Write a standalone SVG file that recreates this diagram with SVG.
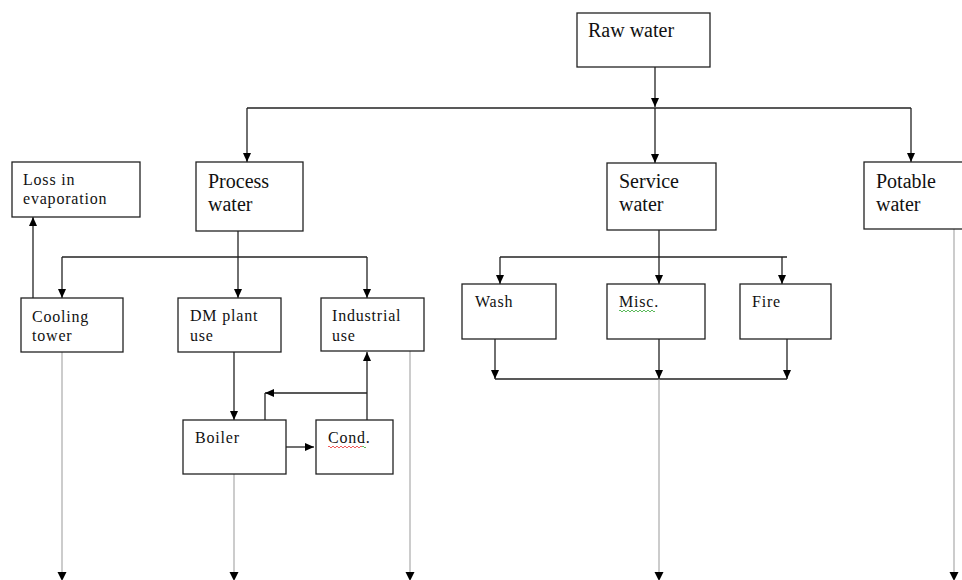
<svg xmlns="http://www.w3.org/2000/svg" width="962" height="580" viewBox="0 0 962 580">
  <style>
    .box { fill: #fff; stroke: #222; stroke-width: 1.3; }
    .big { font-family: "Liberation Serif", "Times New Roman", serif; font-size: 20px; fill: #111; }
    .small { font-family: "Liberation Serif", "Times New Roman", serif; font-size: 16px; letter-spacing: 0.8px; fill: #111; }
    .ln { fill: none; stroke: #222; stroke-width: 1.3; }
    .out { fill: none; stroke: #999; stroke-width: 1; }
    .squig { fill: none; stroke-width: 0.8; }
  </style>
  <defs>
    <marker id="ah" markerUnits="userSpaceOnUse" markerWidth="10" markerHeight="10" refX="9" refY="4" orient="auto">
      <path d="M0,0 L9,4 L0,8 z" fill="#000"/>
    </marker>
  </defs>
  <rect width="962" height="580" fill="#fff"/>

  <!-- Connectors -->
  <g id="connectors">
    <!-- supply header from raw water -->
    <path class="ln" d="M655,67 V107" marker-end="url(#ah)"/>
    <path class="ln" d="M247,108 H911"/>
    <path class="ln" d="M247,108 V162" marker-end="url(#ah)"/>
    <path class="ln" d="M655,108 V163" marker-end="url(#ah)"/>
    <path class="ln" d="M911,108 V162" marker-end="url(#ah)"/>

    <!-- process water branches -->
    <path class="ln" d="M238,231 V257"/>
    <path class="ln" d="M62,257 H367"/>
    <path class="ln" d="M62,257 V298" marker-end="url(#ah)"/>
    <path class="ln" d="M238,257 V298" marker-end="url(#ah)"/>
    <path class="ln" d="M367,257 V298" marker-end="url(#ah)"/>
    <path class="ln" d="M33,298 V217" marker-end="url(#ah)"/>

    <!-- service water branches -->
    <path class="ln" d="M659,230 V257"/>
    <path class="ln" d="M500,257 H787"/>
    <path class="ln" d="M500,257 V284" marker-end="url(#ah)"/>
    <path class="ln" d="M659,257 V284" marker-end="url(#ah)"/>
    <path class="ln" d="M782,257 V284" marker-end="url(#ah)"/>
    <path class="ln" d="M495,339 V379" marker-end="url(#ah)"/>
    <path class="ln" d="M659,339 V379" marker-end="url(#ah)"/>
    <path class="ln" d="M787,339 V379" marker-end="url(#ah)"/>
    <path class="ln" d="M495,379 H787"/>

    <!-- boiler / condensate loop -->
    <path class="ln" d="M234,352 V420" marker-end="url(#ah)"/>
    <path class="ln" d="M286,447 H314" marker-end="url(#ah)"/>
    <path class="ln" d="M367,420 V352" marker-end="url(#ah)"/>
    <path class="ln" d="M367,393 H265" marker-end="url(#ah)"/>
    <path class="ln" d="M265,393 V420"/>

    <!-- discharge lines -->
    <path class="out" d="M62,352 V574"/>
    <path class="out" d="M234,474 V574"/>
    <path class="out" d="M410,351 V574"/>
    <path class="out" d="M659,379 V574"/>
    <path class="out" d="M954,229 V574"/>
    <g fill="#000">
      <path d="M57.5,572 L66.5,572 L62,581 z"/>
      <path d="M229.5,572 L238.5,572 L234,581 z"/>
      <path d="M405.5,572 L414.5,572 L410,581 z"/>
      <path d="M654.5,572 L663.5,572 L659,581 z"/>
      <path d="M949.5,572 L958.5,572 L954,581 z"/>
    </g>
  </g>

  <!-- Nodes -->
  <g id="raw-water">
    <rect class="box" x="577" y="13" width="133" height="54"/>
    <text class="big" x="588" y="37">Raw water</text>
  </g>
  <g id="process-water">
    <rect class="box" x="196" y="162" width="107" height="69"/>
    <text class="big" x="208" y="188">Process</text>
    <text class="big" x="208" y="211">water</text>
  </g>
  <g id="service-water">
    <rect class="box" x="607" y="163" width="109" height="67"/>
    <text class="big" x="619" y="188">Service</text>
    <text class="big" x="619" y="211">water</text>
  </g>
  <g id="potable-water">
    <rect class="box" x="864" y="162" width="110" height="67"/>
    <text class="big" x="876" y="188">Potable</text>
    <text class="big" x="876" y="211">water</text>
  </g>
  <g id="loss-evaporation">
    <rect class="box" x="12" y="162" width="128" height="55"/>
    <text class="small" x="23" y="185">Loss in</text>
    <text class="small" x="23" y="204">evaporation</text>
  </g>
  <g id="cooling-tower">
    <rect class="box" x="21" y="298" width="102" height="54"/>
    <text class="small" x="32" y="322">Cooling</text>
    <text class="small" x="32" y="341">tower</text>
  </g>
  <g id="dm-plant">
    <rect class="box" x="178" y="298" width="103" height="54"/>
    <text class="small" x="190" y="321">DM plant</text>
    <text class="small" x="190" y="341">use</text>
  </g>
  <g id="industrial-use">
    <rect class="box" x="321" y="298" width="103" height="53"/>
    <text class="small" x="332" y="321">Industrial</text>
    <text class="small" x="332" y="341">use</text>
  </g>
  <g id="wash">
    <rect class="box" x="462" y="284" width="94" height="55"/>
    <text class="small" x="475" y="307">Wash</text>
  </g>
  <g id="misc">
    <rect class="box" x="607" y="284" width="98" height="55"/>
    <text class="small" x="619" y="307">Misc.</text>
    <path class="squig" stroke="#3a3" d="M619,311 q1,-2 2,0 t2,0 t2,0 t2,0 t2,0 t2,0 t2,0 t2,0 t2,0 t2,0 t2,0 t2,0 t2,0 t2,0 t2,0 t2,0 t2,0 t2,0"/>
  </g>
  <g id="fire">
    <rect class="box" x="740" y="284" width="91" height="55"/>
    <text class="small" x="752" y="307">Fire</text>
  </g>
  <g id="boiler">
    <rect class="box" x="183" y="420" width="103" height="54"/>
    <text class="small" x="195" y="443">Boiler</text>
  </g>
  <g id="cond">
    <rect class="box" x="316" y="420" width="77" height="54"/>
    <text class="small" x="328" y="443">Cond.</text>
    <path class="squig" stroke="#e33" d="M328,447 q1,-2 2,0 t2,0 t2,0 t2,0 t2,0 t2,0 t2,0 t2,0 t2,0 t2,0 t2,0 t2,0 t2,0 t2,0 t2,0 t2,0 t2,0"/>
    <path class="squig" stroke="#3a3" d="M362,447 q1,-2 2,0 t2,0"/>
  </g>
</svg>
